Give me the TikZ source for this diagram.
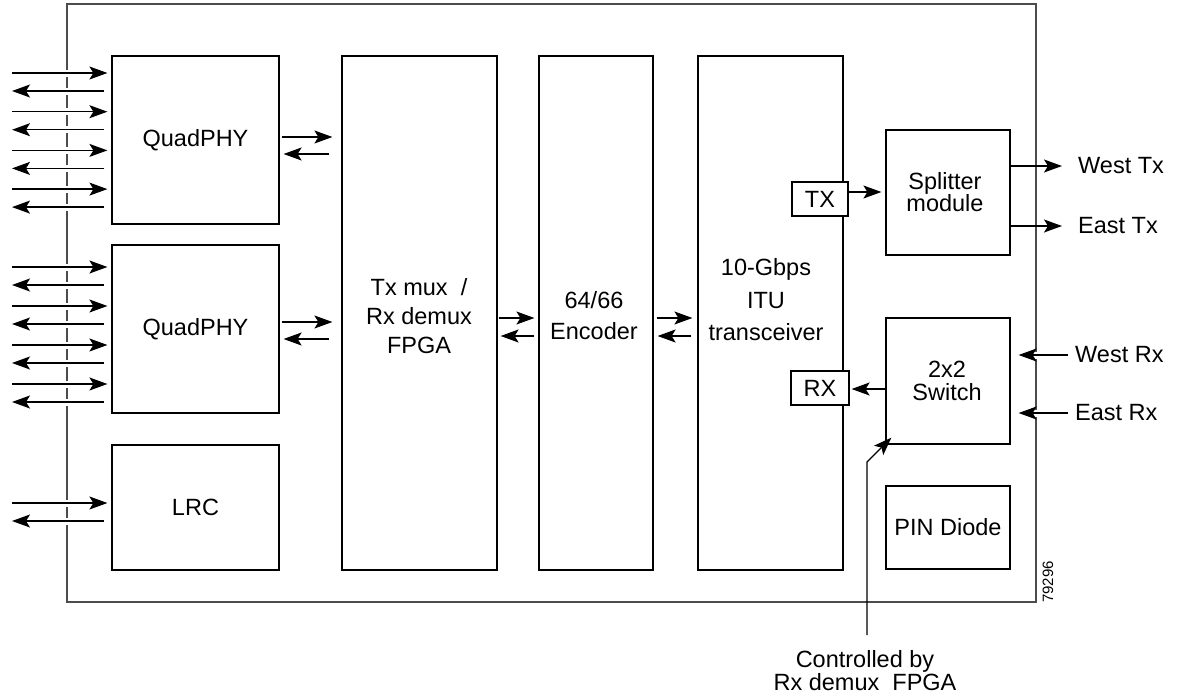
\documentclass[tikz,border=0pt]{standalone}
\usepackage{fontspec}
\setmainfont{Liberation Sans}
\usetikzlibrary{arrows.meta}
\begin{document}
\begin{tikzpicture}[x=1pt,y=-1pt,
  blk/.style={draw, line width=1.2pt, inner sep=0pt, align=center,
    font=\fontsize{23.5}{30}\selectfont},
  small/.style={draw, line width=1.2pt, inner sep=0pt, fill=white,
    font=\fontsize{23.5}{24}\selectfont},
  txt/.style={inner sep=0pt, align=center, font=\fontsize{23.5}{#1}\selectfont},
  txt/.default=24,
  arr/.style={line width=1.3pt, -{Stealth[length=18pt,width=13pt,inset=4pt]}},
  gap/.style={preaction={draw=white, line width=7pt, arrows=-}},
]
\useasboundingbox (0,0) rectangle (1181,696);
% frame
\draw[black!70, line width=1.5pt] (67,4) rectangle (1036,602);
% blocks
\node[blk, minimum width=167, minimum height=168] (q1) at (195.5,140) {QuadPHY};
\node[blk, minimum width=167, minimum height=168] (q2) at (195.5,329) {QuadPHY};
\node[blk, minimum width=167, minimum height=125] (lrc) at (195.5,507.5) {LRC};
\node[blk, minimum width=155, minimum height=514] (fpga) at (419.5,313) {};
\node[txt=29] (fpgal) at (419,316) {Tx mux\ \ /\\Rx demux\\FPGA};
\node[blk, minimum width=114, minimum height=514] (enc) at (596,313) {};
\node[txt=31] (encl) at (594,316) {64/66\\Encoder};
\node[blk, minimum width=145, minimum height=514] (trx) at (770.5,313) {};
\node[txt=32.5] (trxl) at (766,300) {10-Gbps\\ITU\\transceiver};
\node[small, minimum width=56, minimum height=34] (tx) at (820,199) {TX};
\node[small, minimum width=58, minimum height=34] (rx) at (820,388) {RX};
\node[blk, minimum width=124, minimum height=125] (spl) at (948,192.5) {};
\node[txt=22] (spll) at (945,192) {Splitter\\module};
\node[blk, minimum width=124, minimum height=126] (sw) at (948,381) {};
\node[txt=23] (swl) at (947,381) {2x2\\Switch};
\node[blk, minimum width=124, minimum height=83] (pin) at (948,527.5) {PIN Diode};
% left-side line arrows
\foreach \k in {0,...,3}{
  \pgfmathsetmacro{\ya}{73+38.7*\k}
  \pgfmathsetmacro{\yb}{91+38.7*\k}
  \draw[arr,gap,shorten >=4pt] (12,\ya) -- (q1.west |- 0,\ya);
  \draw[arr,gap] (q1.west |- 0,\yb) ++(-7,0) -- (12,\yb);
  \pgfmathsetmacro{\yc}{267+39*\k}
  \pgfmathsetmacro{\yd}{285+39*\k}
  \draw[arr,gap,shorten >=4pt] (12,\yc) -- (q2.west |- 0,\yc);
  \draw[arr,gap] (q2.west |- 0,\yd) ++(-7,0) -- (12,\yd);
}
\draw[arr,gap,shorten >=4pt] (12,503) -- (lrc.west |- 0,503);
\draw[arr,gap] (lrc.west |- 0,521) ++(-7,0) -- (12,521);
% QuadPHY <-> FPGA
\draw[arr,shorten <=2pt,shorten >=9pt] (q1.east |- 0,137) -- (fpga.west |- 0,137);
\draw[arr,shorten <=12pt,shorten >=4pt] (fpga.west |- 0,154) -- (q1.east |- 0,154);
\draw[arr,shorten <=2pt,shorten >=9pt] (q2.east |- 0,322) -- (fpga.west |- 0,322);
\draw[arr,shorten <=12pt,shorten >=4pt] (fpga.west |- 0,339) -- (q2.east |- 0,339);
% FPGA <-> Encoder
\draw[arr,shorten <=1pt,shorten >=4pt] (fpga.east |- 0,318) -- (enc.west |- 0,318);
\draw[arr,shorten <=4pt,shorten >=3pt] (enc.west |- 0,336) -- (fpga.east |- 0,336);
% Encoder <-> transceiver
\draw[arr,shorten <=3pt,shorten >=5pt] (enc.east |- 0,318) -- (trx.west |- 0,318);
\draw[arr,shorten <=6pt,shorten >=4pt] (trx.west |- 0,336) -- (enc.east |- 0,336);
% TX -> splitter, splitter -> outputs
\draw[arr,shorten >=4pt] (tx.east |- 0,192) -- (spl.west |- 0,192);
\coordinate (wtx) at (1062,166);
\coordinate (etx) at (1062,226);
\draw[arr] (spl.east |- wtx) -- (wtx);
\draw[arr] (spl.east |- etx) -- (etx);
\node[txt, anchor=west] (wtxl) at (1078,166) {West Tx};
\node[txt, anchor=west] (etxl) at (1078,226) {East Tx};
% Rx inputs
\coordinate (wrx) at (1068,355);
\coordinate (erx) at (1068,413);
\draw[arr,gap,shorten >=8pt] (wrx) -- (sw.east |- wrx);
\draw[arr,gap,shorten >=8pt] (erx) -- (sw.east |- erx);
\node[txt, anchor=west] (wrxl) at (1075,355) {West Rx};
\node[txt, anchor=west] (erxl) at (1075,413) {East Rx};
% switch -> RX
\draw[arr,shorten >=2pt] (sw.west |- 0,389) -- (rx.east |- 0,389);
% control line
\coordinate (ctl) at (867,635);
\draw[arr] (ctl) -- (867,462) -- ([shift={(6,-7)}]sw.south west);
\node[txt=23] (ctll) at (865,671) {Controlled by\\Rx demux\ \ FPGA};
% figure number
\node[inner sep=0pt, rotate=90, font=\fontsize{15}{15}\selectfont] (fig) at (1048,582) {79296};
\end{tikzpicture}
\end{document}
